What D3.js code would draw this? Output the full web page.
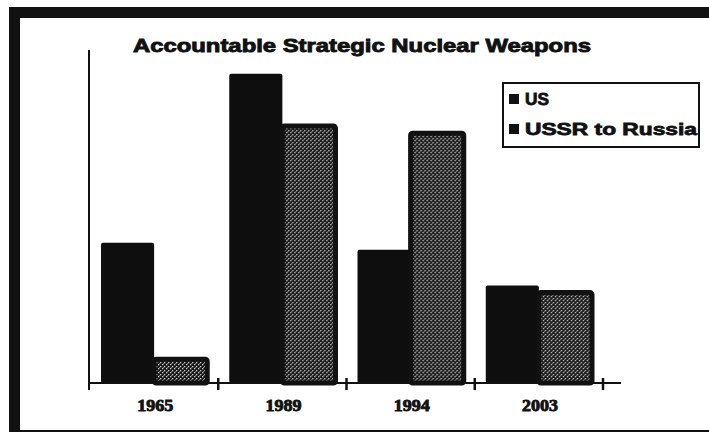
<!DOCTYPE html>
<html>
<head>
<meta charset="utf-8">
<script src="https://cdn.jsdelivr.net/npm/d3@7"></script>
<style>
  body { margin: 0; background: white; }
  svg { display: block; }
</style>
</head>
<body>
<script>
var width = 709
var height = 434

// data (no y ticks, so units are estimates)
var years = ["1965", "1989", "1994", "2003"]
var seriesNames = ["US", "USSR to Russia"]
var usValues = [5900, 13000, 5600, 4100]
var russiaValues = [1000, 10800, 10500, 3800]

var usColor = "#0e0e0e"
var inkColor = "#111"

var svg = d3.select("body")
    .append("svg")
    .attr("width", width)
    .attr("height", height)

var defs = svg.append("defs")

// dithered grey like the scanned shading
var pat = defs.append("pattern")
    .attr("id", "dither")
    .attr("width", 4)
    .attr("height", 4)
    .attr("patternUnits", "userSpaceOnUse")
pat.append("rect").attr("width", 4).attr("height", 4).attr("fill", "#161616")
pat.append("rect").attr("x", 0).attr("y", 0).attr("width", 1.3).attr("height", 1.3).attr("fill", "#d0d0d0")
pat.append("rect").attr("x", 2).attr("y", 2).attr("width", 1.3).attr("height", 1.3).attr("fill", "#d0d0d0")
pat.append("rect").attr("x", 1).attr("y", 3).attr("width", 1).attr("height", 1).attr("fill", "#777")

// frame of the scanned page
svg.append("rect").attr("x", 9).attr("y", 7).attr("width", width - 9).attr("height", 11).attr("fill", inkColor)
svg.append("rect").attr("x", 9).attr("y", 7).attr("width", 11).attr("height", 425).attr("fill", inkColor)
svg.append("rect").attr("x", 9).attr("y", 430).attr("width", width - 9).attr("height", 2).attr("fill", inkColor)

var x0 = d3.scaleBand()
    .domain(years)
    .range([90, 603])

var x1 = d3.scaleBand()
    .domain(seriesNames)
    .range([11, x0.bandwidth() - 11])

var y = d3.scaleLinear()
    .domain([0, 14000])
    .range([383, 50])

var rows = years.map(function (yr, i) {
    return { year: yr, values: [usValues[i], russiaValues[i]] }
})

var groups = svg.selectAll(".group")
    .data(rows)
    .enter()
    .append("g")
    .attr("class", "group")
    .attr("transform", function (d) { return "translate(" + x0(d.year) + ",0)" })

groups.selectAll("rect")
    .data(function (d) {
        return seriesNames.map(function (s, j) { return { name: s, value: d.values[j] } })
    })
    .enter()
    .append("rect")
    .attr("x", function (d) { return x1(d.name) })
    .attr("y", function (d) { return y(d.value) })
    .attr("width", x1.bandwidth())
    .attr("height", function (d) { return y(0) - y(d.value) })
    .attr("rx", 2)
    .attr("fill", function (d) { return d.name === "US" ? usColor : "url(#dither)" })
    .attr("stroke", inkColor)
    .attr("stroke-width", function (d) { return d.name === "US" ? 0 : 5 })

// axes
svg.append("line")
    .attr("x1", 89).attr("x2", 89)
    .attr("y1", y.range()[1]).attr("y2", y(0) + 7)
    .attr("stroke", inkColor).attr("stroke-width", 2)

svg.append("line")
    .attr("x1", 89).attr("x2", 621)
    .attr("y1", y(0)).attr("y2", y(0))
    .attr("stroke", inkColor).attr("stroke-width", 2)

svg.selectAll(".xtick")
    .data(years)
    .enter()
    .append("line")
    .attr("class", "xtick")
    .attr("x1", function (d) { return x0(d) + x0.bandwidth() })
    .attr("x2", function (d) { return x0(d) + x0.bandwidth() })
    .attr("y1", y(0) - 5)
    .attr("y2", y(0) + 7)
    .attr("stroke", inkColor)
    .attr("stroke-width", 2.5)

svg.selectAll(".xlabel")
    .data(years)
    .enter()
    .append("text")
    .attr("class", "xlabel")
    .attr("x", function (d) { return x0(d) + x0.bandwidth() / 2 + 1 })
    .attr("y", 411)
    .attr("text-anchor", "middle")
    .attr("textLength", 36)
    .attr("lengthAdjust", "spacingAndGlyphs")
    .style("font-family", "'Liberation Serif', 'DejaVu Serif', serif")
    .style("font-weight", "bold")
    .style("font-size", "17px")
    .attr("fill", inkColor)
    .attr("stroke", inkColor)
    .attr("stroke-width", 0.9)
    .text(function (d) { return d })

// title
svg.append("text")
    .attr("x", 362)
    .attr("y", 52)
    .attr("text-anchor", "middle")
    .attr("textLength", 458)
    .attr("lengthAdjust", "spacingAndGlyphs")
    .style("font-family", "'Liberation Sans', Arial, sans-serif")
    .style("font-weight", "bold")
    .style("font-size", "19px")
    .attr("fill", inkColor)
    .attr("stroke", inkColor)
    .attr("stroke-width", 0.9)
    .text("Accountable Strategic Nuclear Weapons")

// legend
var legend = svg.append("g").attr("transform", "translate(503,83)")

legend.append("rect")
    .attr("width", 196)
    .attr("height", 64)
    .attr("fill", "white")
    .attr("stroke", inkColor)
    .attr("stroke-width", 2)

var legendTextWidths = [24, 172]

var item = legend.selectAll(".item")
    .data(seriesNames)
    .enter()
    .append("g")
    .attr("class", "item")
    .attr("transform", function (d, i) { return "translate(0," + (16 + i * 30) + ")" })

item.append("rect")
    .attr("x", 6)
    .attr("y", -5)
    .attr("width", 10)
    .attr("height", 10)
    .attr("fill", inkColor)

item.append("text")
    .attr("x", 22)
    .attr("y", 6)
    .attr("textLength", function (d, i) { return legendTextWidths[i] })
    .attr("lengthAdjust", "spacingAndGlyphs")
    .style("font-family", "'Liberation Sans', Arial, sans-serif")
    .style("font-weight", "bold")
    .style("font-size", "17px")
    .attr("fill", inkColor)
    .attr("stroke", inkColor)
    .attr("stroke-width", 0.8)
    .text(function (d) { return d })
</script>
</body>
</html>
